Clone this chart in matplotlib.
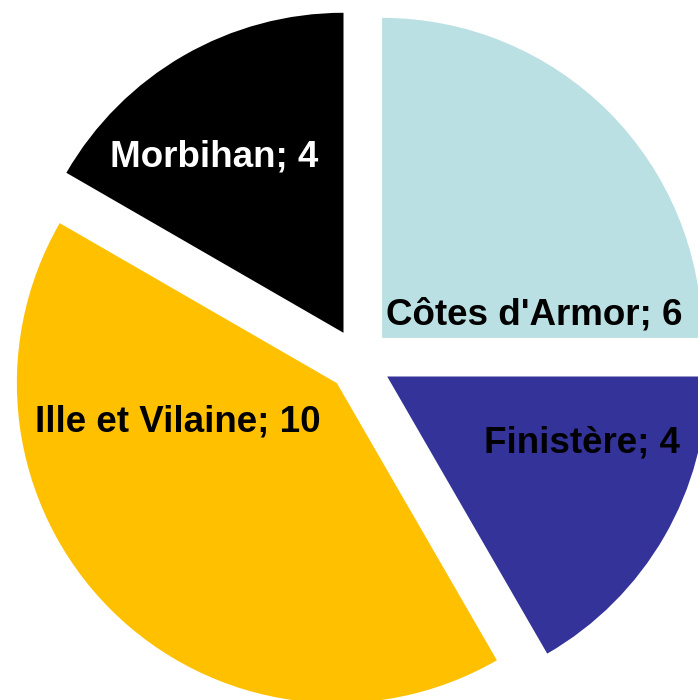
import matplotlib
matplotlib.use("Agg")
import matplotlib.pyplot as plt
import numpy as np

# Data
Departments = ["Côtes d'Armor", "Finistère", "Ille et Vilaine", "Morbihan"]
Counts = [6, 4, 10, 4]

# Style
Colors = ["#BAE0E3", "#333399", "#FFC000", "#000000"]
TextColors = ["black", "black", "black", "white"]
# label baseline position relative to pie centre, as fraction of radius
LabelPos = [(0.545, 0.111), (0.695, -0.289), (-0.569, -0.223), (-0.455, 0.605)]

W, H = 698, 700
fig = plt.figure(figsize=(W / 100, H / 100), dpi=100)
ax = fig.add_axes([0, 0, 1, 1])

center = (359.5, H - 360.5)
radius = 320

# explode in pie is in data units, not fraction of radius
ax.pie(
    Counts,
    colors=Colors,
    startangle=90,
    counterclock=False,
    explode=[0.1 * radius] * len(Counts),
    radius=radius,
    center=center,
    wedgeprops=dict(linewidth=0),
)

# Add labels
for i, d in enumerate(Departments):
    dx, dy = LabelPos[i]
    ax.text(
        center[0] + dx * radius,
        center[1] + dy * radius,
        f"{d}; {Counts[i]}",
        ha="center",
        va="baseline",
        color=TextColors[i],
        fontsize=26.5,
        fontweight="bold",
        family=["Liberation Sans", "DejaVu Sans"],
    )

ax.set_xlim(0, W)
ax.set_ylim(0, H)
ax.set_aspect("equal")
ax.axis("off")

plt.savefig("out.png", dpi=100)
plt.close()
